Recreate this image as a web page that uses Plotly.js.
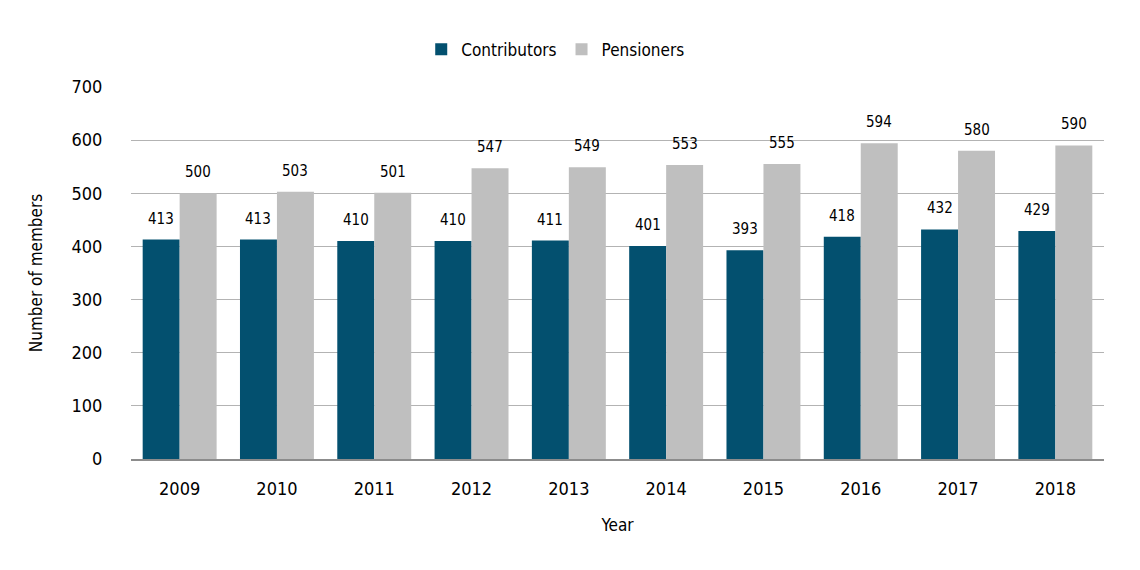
<!DOCTYPE html>
<html>
<head>
<meta charset="utf-8">
<script src="https://cdn.plot.ly/plotly-3.0.1.min.js"></script>
<style>html,body{margin:0;padding:0;background:#fff;}#chart{width:1140px;height:570px;}</style>
</head>
<body>
<div id="chart"></div>
<script>
const years = ['2009','2010','2011','2012','2013','2014','2015','2016','2017','2018'];
const contributors = [413, 413, 410, 410, 411, 401, 393, 418, 432, 429];
const pensioners = [500, 503, 501, 547, 549, 553, 555, 594, 580, 590];
const yTicks = [0, 100, 200, 300, 400, 500, 600, 700];

const FONT = '"Liberation Sans Narrow", "DejaVu Sans Condensed", "Arial Narrow", sans-serif';
const C1 = '#03506f';
const C2 = '#bfbfbf';

const traces = [
  {type:'bar', name:'Contributors', x:years, y:contributors, marker:{color:C1}, hoverinfo:'none'},
  {type:'bar', name:'Pensioners', x:years, y:pensioners, marker:{color:C2}, hoverinfo:'none'}
];

const annotations = [];
years.forEach((yr, i) => {
  annotations.push({x:i, y:contributors[i], xref:'x', yref:'y', text:String(contributors[i]),
    showarrow:false, xshift:-18.5, yshift:21, yanchor:'middle', font:{family:FONT, size:15, color:'#000'}});
  annotations.push({x:i, y:pensioners[i], xref:'x', yref:'y', text:String(pensioners[i]),
    showarrow:false, xshift:18.5, yshift:21, yanchor:'middle', font:{family:FONT, size:15, color:'#000'}});
});

const layout = {
  width:1140, height:570,
  paper_bgcolor:'#fff', plot_bgcolor:'#fff',
  margin:{l:131, r:36, t:87, b:111},
  barmode:'group', bargap:0.24, bargroupgap:0,
  font:{family:FONT, color:'#000'},
  showlegend:true,
  legend:{orientation:'h', x:0.436, xanchor:'center', y:1.1, yanchor:'middle',
    font:{family:FONT, size:17, color:'#000'}, itemwidth:30, traceorder:'normal'},
  xaxis:{
    type:'category', range:[-0.5, 9.5], tickfont:{family:FONT, size:18, color:'#000'},
    ticks:'outside', ticklen:12, tickcolor:'rgba(0,0,0,0)',
    showline:true, linecolor:'#8c8c8c', linewidth:2, showgrid:false, zeroline:false,
    title:{text:'Year', font:{family:FONT, size:17, color:'#000'}, standoff:22}
  },
  yaxis:{
    range:[0,700], tickvals:yTicks, ticktext:yTicks.map(String),
    tickfont:{family:FONT, size:18, color:'#000'},
    ticks:'outside', ticklen:24, tickcolor:'rgba(0,0,0,0)',
    showgrid:true, gridcolor:'#b3b3b3', gridwidth:1, zeroline:false, showline:false,
    title:{text:'Number of members', font:{family:FONT, size:17, color:'#000'}, standoff:24}
  },
  annotations:annotations
};

Plotly.newPlot('chart', traces, layout, {staticPlot:true, displayModeBar:false});
</script>
</body>
</html>
